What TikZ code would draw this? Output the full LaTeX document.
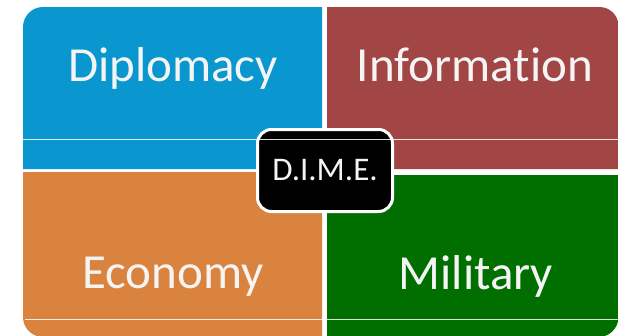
\documentclass[tikz,border=0pt]{standalone}
\usepackage{fontspec}
\setmainfont{Carlito}[Ligatures={NoCommon,NoRequired,NoContextual}]
\definecolor{dblue}{HTML}{0A97CF}
\definecolor{dred}{HTML}{A24545}
\definecolor{dorange}{HTML}{D9833F}
\definecolor{dgreen}{HTML}{006F00}
\definecolor{dtext}{HTML}{F4F4F4}
\begin{document}
\begin{tikzpicture}[x=1pt,y=-1pt,
  label/.style={anchor=base,text=dtext,inner sep=0pt,font=\fontsize{49}{58}\selectfont},
  dimebox/.style={fill=black,draw=white,line width=3pt,rounded corners=14pt,
    minimum width=135pt,minimum height=82pt,inner sep=0pt,text=dtext,
    font=\fontsize{33}{38}\selectfont},
  artline/.style={white,line width=0.9pt,opacity=0.85}]
\useasboundingbox (0,0) rectangle (618,335);
\fill[white] (0,0) rectangle (618,335);
\begin{scope}
\clip (0,0) rectangle (618,335);
% quadrants
\fill[dblue] (23,169) [rounded corners=20pt] -- (23,7) [sharp corners] -- (322,7) -- (322,169) -- cycle;
\fill[dred] (327,169) -- (327,7) [rounded corners=19pt] -- (618.5,7) [sharp corners] -- (618.5,169) -- cycle;
\fill[dorange] (23,172) [rounded corners=20pt] -- (23,337) [sharp corners] -- (322,337) -- (322,172) -- cycle;
\fill[dgreen] (327,175) -- (327,337) [rounded corners=20pt] -- (618.5,337) [sharp corners] -- (618.5,175) -- cycle;
% labels
\node[label] (dip) at (173,81) {Diplomacy};
\node[label] (inf) at (475,81) {Informat\kern0pt ion};
\node[label] (eco) at (173,288) {Economy};
\node[label] (mil) at (476,289) {Military};
% centre box
\node[dimebox] (dime) at (325,170.5) {D.I.M.E.};
% thin artefact lines
\coordinate (l1a) at (23,139.5);
\coordinate (l1b) at (618,139.5);
\coordinate (l2a) at (25,319);
\coordinate (l2b) at (618,319);
\draw[artline] (l1a) -- (l1b);
\draw[artline] (l2a) -- (l2b);
\end{scope}
\end{tikzpicture}
\end{document}
